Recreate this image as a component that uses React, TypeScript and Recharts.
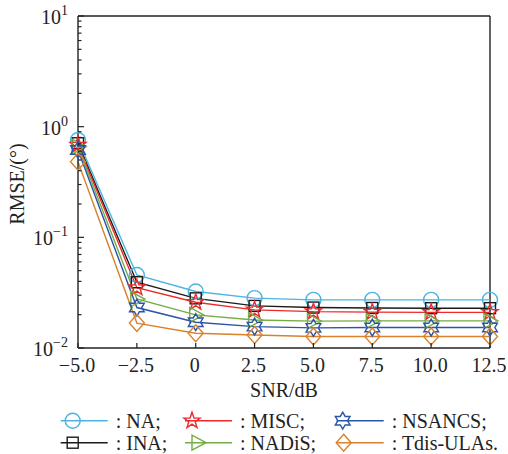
import { LineChart, Line, XAxis, YAxis, ReferenceLine } from 'recharts';

// SNR (dB) on the x axis
const snr = [-5, -2.5, 0, 2.5, 5, 7.5, 10, 12.5];

// RMSE (degrees) per method
const na = [0.758, 0.0457, 0.0324, 0.0282, 0.0272, 0.0272, 0.0272, 0.0272];
const ina = [0.708, 0.0393, 0.0281, 0.024, 0.0232, 0.023, 0.0229, 0.0229];
const misc = [0.683, 0.0351, 0.0259, 0.0221, 0.0213, 0.0211, 0.021, 0.021];
const nadis = [0.66, 0.0277, 0.0199, 0.0179, 0.0175, 0.0176, 0.0176, 0.0176];
const nsancs = [0.616, 0.0232, 0.0171, 0.0156, 0.0152, 0.0153, 0.0153, 0.0153];
const tdis = [0.483, 0.0168, 0.0136, 0.0131, 0.0127, 0.0127, 0.0127, 0.0127];

const xTicks = [-5, -2.5, 0, 2.5, 5, 7.5, 10, 12.5];
const yMajor = [0.01, 0.1, 1, 10];

const FONT = "'Liberation Serif', 'Times New Roman', serif";
const AXIS = '#222';

const series = [
  { key: 'na', name: 'NA', color: '#4db3e0', shape: 'circle', values: na },
  { key: 'ina', name: 'INA', color: '#1a1a1a', shape: 'square', values: ina },
  { key: 'misc', name: 'MISC', color: '#ee2a2a', shape: 'star', values: misc },
  { key: 'nadis', name: 'NADiS', color: '#76ab45', shape: 'triangle', values: nadis },
  { key: 'nsancs', name: 'NSANCS', color: '#2a55a8', shape: 'hexagram', values: nsancs },
  { key: 'tdis', name: 'Tdis-ULAs', color: '#d9822b', shape: 'diamond', values: tdis },
];

const data = snr.map((s, i) => {
  const row: Record<string, number> = { snr: s };
  series.forEach((sr) => (row[sr.key] = sr.values[i]));
  return row;
});

// minor + major ticks for the log axis
const yTicks: number[] = [];
[0.01, 0.1, 1].forEach((d) => {
  for (let k = 1; k < 10; k++) yTicks.push(+(d * k).toPrecision(3));
});
yTicks.push(10);

function starPoints(cx: number, cy: number, n: number, R: number, r: number) {
  const pts: string[] = [];
  for (let i = 0; i < n * 2; i++) {
    const rad = i % 2 === 0 ? R : r;
    const a = -Math.PI / 2 + (i * Math.PI) / n;
    pts.push(`${cx + rad * Math.cos(a)},${cy + rad * Math.sin(a)}`);
  }
  return pts.join(' ');
}

function Marker({ shape, cx, cy, color }: { shape: string; cx: number; cy: number; color: string }) {
  const common = { fill: 'none', stroke: color, strokeWidth: 1.4 };
  switch (shape) {
    case 'circle':
      return <circle cx={cx} cy={cy} r={7.5} {...common} />;
    case 'square':
      return <rect x={cx - 5.5} y={cy - 5.5} width={11} height={11} {...common} />;
    case 'star':
      return <polygon points={starPoints(cx, cy, 5, 8.5, 3.4)} {...common} />;
    case 'hexagram':
      return <polygon points={starPoints(cx, cy, 6, 8.5, 4.9)} {...common} />;
    case 'triangle':
      return <polygon points={`${cx + 8},${cy} ${cx - 6},${cy - 7.5} ${cx - 6},${cy + 7.5}`} {...common} />;
    case 'diamond':
      return <polygon points={`${cx},${cy - 8.5} ${cx + 7.5},${cy} ${cx},${cy + 8.5} ${cx - 7.5},${cy}`} {...common} />;
  }
  return null;
}

function fmtX(v: number) {
  if (v === 0) return '0';
  const s = Math.abs(v).toFixed(1);
  return v < 0 ? '\u2212' + s : s;
}

function XTick(props: any) {
  const { x, y, payload } = props;
  return (
    <g>
      <line x1={x} y1={y} x2={x} y2={y - 5} stroke={AXIS} strokeWidth={1.2} />
      <text x={x - 1} y={y + 24} textAnchor="middle" fontSize={20} fontFamily={FONT} fill="#222">
        {fmtX(payload.value)}
      </text>
    </g>
  );
}

function YTick(props: any) {
  const { x, y, payload } = props;
  const v = payload.value;
  const major = yMajor.some((m) => Math.abs(m - v) < 1e-9);
  const exp = Math.round(Math.log10(v));
  return (
    <g>
      <line x1={x} y1={y} x2={x + (major ? 6 : 3.5)} y2={y} stroke={AXIS} strokeWidth={1.2} />
      {major && (
        <text x={x - 10} y={y + 8} textAnchor="end" fontSize={20} fontFamily={FONT} fill="#222">
          10
          <tspan dy={-9} fontSize={14}>
            {exp < 0 ? '\u2212' + Math.abs(exp) : String(exp)}
          </tspan>
        </text>
      )}
    </g>
  );
}

// legend grid: rows of three
const legendRows = [
  ['na', 'misc', 'nsancs'],
  ['ina', 'nadis', 'tdis'],
];
const legendCols = [60.7, 185, 336.7];
const markerOffset: Record<string, number> = { na: 12, ina: 12, misc: 7, nadis: 13, nsancs: 6, tdis: 7 };

export default function App() {
  return (
    <div style={{ position: 'absolute', left: 0, top: 0, width: 508, height: 454 }}>
      <LineChart width={508} height={454} data={data} margin={{ top: 16, right: 18, bottom: 76, left: 8 }}>
        <XAxis
          dataKey="snr"
          type="number"
          domain={[-5, 12.5]}
          ticks={xTicks}
          interval={0}
          height={30}
          tickSize={0}
          tickMargin={0}
          tickLine={false}
          axisLine={{ stroke: AXIS, strokeWidth: 1.4 }}
          tick={<XTick />}
          label={{
            content: () => (
              <text x={284} y={397} textAnchor="middle" fontSize={20} fontFamily={FONT} fill="#222">
                SNR/dB
              </text>
            ),
          }}
        />
        <YAxis
          type="number"
          scale="log"
          domain={[0.01, 10]}
          allowDataOverflow
          ticks={yTicks}
          interval={0}
          width={70}
          tickSize={0}
          tickMargin={0}
          tickLine={false}
          axisLine={{ stroke: AXIS, strokeWidth: 1.4 }}
          tick={<YTick />}
          label={{
            content: () => (
              <text
                x={24}
                y={184}
                transform="rotate(-90 24 184)"
                textAnchor="middle"
                fontSize={20}
                fontFamily={FONT}
                fill="#222"
              >
                RMSE/(°)
              </text>
            ),
          }}
        />
        <ReferenceLine y={10} stroke={AXIS} strokeWidth={1.4} />
        <ReferenceLine x={12.5} stroke={AXIS} strokeWidth={1.4} />
        {series.map((s) => (
          <Line
            key={s.key}
            type="linear"
            dataKey={s.key}
            stroke={s.color}
            strokeWidth={1.4}
            isAnimationActive={false}
            activeDot={false}
            dot={(p: any) => <Marker key={`${s.key}-${p.index}`} shape={s.shape} cx={p.cx} cy={p.cy} color={s.color} />}
          />
        ))}
      </LineChart>
      <svg width={508} height={454} style={{ position: 'absolute', left: 0, top: 0, pointerEvents: 'none' }}>
        {legendRows.map((row, ri) =>
          row.map((key, ci) => {
            const s = series.find((q) => q.key === key)!;
            const x0 = legendCols[ci];
            const cy = 420.7 + ri * 22;
            return (
              <g key={key}>
                <line x1={x0} y1={cy} x2={x0 + 47} y2={cy} stroke={s.color} strokeWidth={1.4} />
                <Marker shape={s.shape} cx={x0 + markerOffset[key]} cy={cy} color={s.color} />
                <text x={x0 + 55} y={cy + 7} fontSize={20} fontFamily={FONT} fill="#222">
                  {`: ${s.name}${key === 'tdis' ? '.' : ';'}`}
                </text>
              </g>
            );
          })
        )}
      </svg>
    </div>
  );
}
